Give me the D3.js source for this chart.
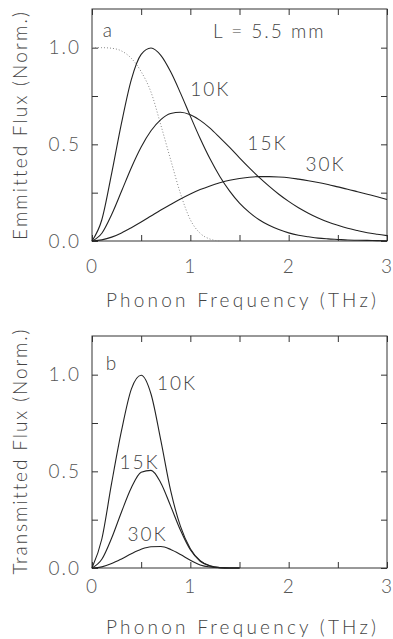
<!DOCTYPE html>
<html>
<head>
<meta charset="utf-8">
<script src="https://cdn.jsdelivr.net/npm/d3@7"></script>
<style>
  body { margin: 0; background: #fff; }
  svg text { font-family: Lato, "Liberation Sans", Arial, sans-serif; font-weight: 300; fill: #444; letter-spacing: 2px; }
  .frame { fill: none; stroke: #333; stroke-width: 1; }
  .axis path { display: none; }
  .axis line { stroke: #333; }
  .axis text { font-size: 19px; fill: #555; }
  .line { fill: none; stroke: #222; stroke-width: 1.1; }
  .dotted { fill: none; stroke: #888; stroke-width: 1; stroke-dasharray: 1,2; }
</style>
</head>
<body>
<svg width="393" height="639"></svg>
<script>
// Phonon frequency grid (THz)
const freqA = [0,0.1,0.2,0.3,0.4,0.5,0.6,0.7,0.8,0.9,1.0,1.1,1.2,1.3,1.4,1.5,1.6,1.7,1.8,1.9,2.0,2.1,2.2,2.3,2.4,2.5,2.6,2.7,2.8,2.9,3.0];

// a: emitted flux (normalized)
const emit10K = [0,0.11,0.35,0.61,0.835,0.965,0.998,0.96,0.875,0.765,0.646,0.53,0.425,0.334,0.258,0.196,0.148,0.11,0.081,0.059,0.042,0.03,0.022,0.015,0.011,0.008,0.005,0.004,0.003,0.002,0.001];
const emit15K = [0,0.04,0.137,0.257,0.379,0.486,0.57,0.628,0.659,0.666,0.653,0.624,0.584,0.535,0.484,0.43,0.378,0.329,0.284,0.242,0.205,0.172,0.144,0.119,0.098,0.081,0.066,0.054,0.043,0.035,0.028];
const emit30K = [0,0.006,0.02,0.042,0.069,0.098,0.129,0.16,0.189,0.217,0.243,0.266,0.285,0.301,0.314,0.323,0.33,0.333,0.333,0.331,0.327,0.32,0.312,0.303,0.292,0.28,0.268,0.255,0.242,0.229,0.215];

// a: dotted curve
const freqDot = [0,0.1,0.2,0.3,0.4,0.5,0.6,0.7,0.8,0.9,1.0,1.1,1.2,1.3];
const dotValues = [1.0,1.0,0.997,0.983,0.945,0.876,0.77,0.6,0.42,0.245,0.11,0.04,0.01,0];

// b: transmitted flux (normalized)
const freqB = [0,0.1,0.2,0.3,0.4,0.5,0.6,0.7,0.8,0.9,1.0,1.1,1.2,1.3,1.4,1.5];
const trans10K = [0,0.15,0.44,0.71,0.925,0.997,0.9,0.66,0.4,0.215,0.1,0.038,0.011,0.002,0,0];
const trans15K = [0,0.045,0.155,0.29,0.415,0.495,0.505,0.44,0.32,0.195,0.094,0.035,0.01,0.002,0,0];
const trans30K = [0,0.006,0.023,0.047,0.074,0.097,0.11,0.111,0.096,0.07,0.04,0.016,0.005,0.001,0,0];

const xTicks = [0,0.5,1,1.5,2,2.5,3];
const yTicks = [0,0.25,0.5,0.75,1.0];

const svg = d3.select("svg");

function zip(xs, ys) {
  return xs.map(function(x, i) { return {x: x, y: ys[i]}; });
}

function drawPanel(p) {
  const xScale = d3.scaleLinear().domain([0, 3]).range([92, 387]),
      yScale = d3.scaleLinear().domain([0, 1.2]).range([p.bottom, p.bottom - 232]);

  const g = svg.append("g");

  const line = d3.line()
      .x(function(d) { return xScale(d.x); })
      .y(function(d) { return yScale(d.y); })
      .curve(d3.curveMonotoneX);

  // Frame
  g.append("rect")
      .attr("class", "frame")
      .attr("x", xScale(0))
      .attr("y", yScale(1.2))
      .attr("width", xScale(3) - xScale(0))
      .attr("height", yScale(0) - yScale(1.2));

  // Inward ticks on all four sides, labels on bottom and left only
  g.append("g")
      .attr("class", "axis")
      .attr("transform", "translate(0," + yScale(0) + ")")
      .call(d3.axisBottom(xScale).tickValues(xTicks).tickSize(-6).tickSizeOuter(0)
        .tickPadding(p.xPad)
        .tickFormat(function(d) { return d % 1 === 0 ? d : ""; }));

  g.append("g")
      .attr("class", "axis")
      .attr("transform", "translate(0," + yScale(1.2) + ")")
      .call(d3.axisTop(xScale).tickValues(xTicks).tickSize(-6).tickSizeOuter(0).tickFormat(""));

  g.append("g")
      .attr("class", "axis")
      .attr("transform", "translate(" + xScale(0) + ",0)")
      .call(d3.axisLeft(yScale).tickValues(yTicks).tickSize(-6).tickSizeOuter(0)
        .tickPadding(11)
        .tickFormat(function(d) { return d % 0.5 === 0 ? d3.format(".1f")(d) : ""; }));

  g.append("g")
      .attr("class", "axis")
      .attr("transform", "translate(" + xScale(3) + ",0)")
      .call(d3.axisRight(yScale).tickValues(yTicks).tickSize(-6).tickSizeOuter(0).tickFormat(""));

  // Axis titles
  g.append("text")
      .attr("x", 242)
      .attr("y", p.xTitleY)
      .attr("text-anchor", "middle")
      .attr("textLength", 272)
      .attr("lengthAdjust", "spacing")
      .style("font-size", "19px")
      .text("Phonon Frequency (THz)");

  g.append("text")
      .attr("transform", "translate(27," + p.yTitleMid + ") rotate(-90)")
      .attr("text-anchor", "middle")
      .attr("textLength", p.yTitleLen)
      .attr("lengthAdjust", "spacing")
      .style("font-size", "19px")
      .text(p.yTitle);

  // Curves
  p.series.forEach(function(s) {
    g.append("path")
        .attr("class", s.cls || "line")
        .attr("d", line(zip(s.xs, s.ys)));
  });

  // Labels
  p.labels.forEach(function(l) {
    g.append("text")
        .attr("x", xScale(l.f))
        .attr("y", yScale(l.v))
        .style("font-size", "19px")
        .text(l.text);
  });
}

drawPanel({
  bottom: 241,
  xPad: 19,
  xTitleY: 307,
  yTitle: "Emmitted Flux (Norm.)",
  yTitleMid: 125,
  yTitleLen: 230,
  series: [
    {xs: freqDot, ys: dotValues, cls: "dotted"},
    {xs: freqA, ys: emit10K},
    {xs: freqA, ys: emit15K},
    {xs: freqA, ys: emit30K}
  ],
  labels: [
    {f: 0.11, v: 1.055, text: "a"},
    {f: 1.23, v: 1.05, text: "L = 5.5 mm"},
    {f: 1.0, v: 0.75, text: "10K"},
    {f: 1.58, v: 0.47, text: "15K"},
    {f: 2.17, v: 0.36, text: "30K"}
  ]
});

drawPanel({
  bottom: 568,
  xPad: 12,
  xTitleY: 634,
  yTitle: "Transmitted Flux (Norm.)",
  yTitleMid: 451,
  yTitleLen: 247,
  series: [
    {xs: freqB, ys: trans10K},
    {xs: freqB, ys: trans15K},
    {xs: freqB, ys: trans30K}
  ],
  labels: [
    {f: 0.14, v: 1.025, text: "b"},
    {f: 0.66, v: 0.92, text: "10K"},
    {f: 0.28, v: 0.51, text: "15K"},
    {f: 0.36, v: 0.14, text: "30K"}
  ]
});
</script>
</body>
</html>
